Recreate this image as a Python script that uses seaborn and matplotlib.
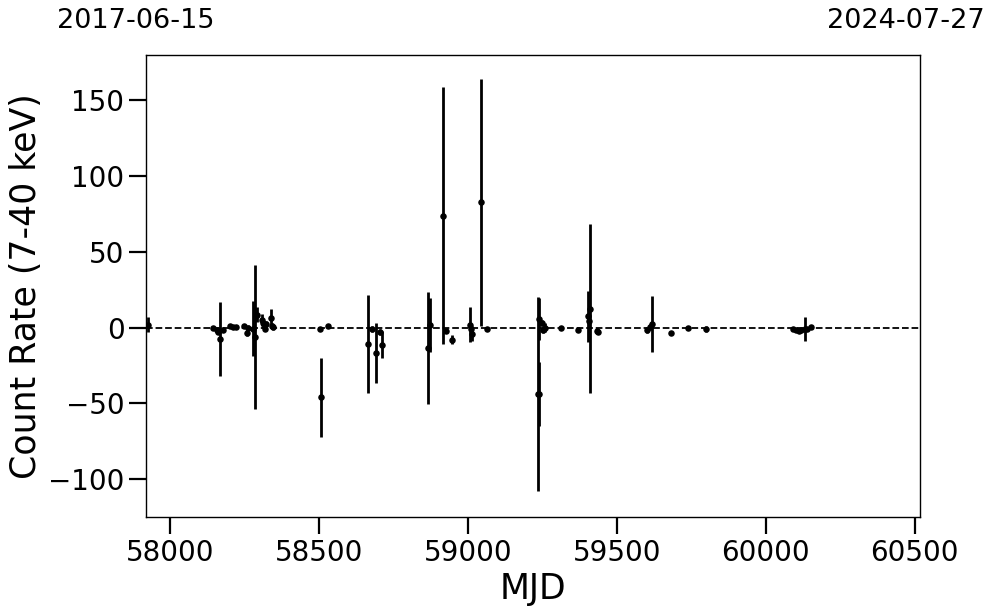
import numpy as np
import pandas as pd
import matplotlib
matplotlib.use("Agg")
import matplotlib.pyplot as plt
import seaborn as sns

# light curve values
mjd = [57927, 58145, 58156, 58162, 58167, 58176, 58200, 58210, 58221,
       58249, 58257, 58260, 58277, 58285, 58293, 58308, 58313, 58318,
       58321, 58338, 58341, 58346,
       58503, 58508, 58530,
       58663, 58678, 58690, 58705, 58712,
       58866, 58874, 58916, 58925, 58947,
       59007, 59010, 59014, 59044, 59065,
       59236, 59239, 59240, 59249, 59252, 59260, 59314, 59371,
       59403, 59405, 59411, 59434, 59436,
       59601, 59612, 59618, 59681, 59738, 59799,
       60090, 60100, 60110, 60120, 60131, 60140, 60151]
rate = [2.0, 0.0, -1.8, -3.0, -7.3, -1.3, 1.0, 0.5, 0.5,
        1.0, -3.5, 0.0, -0.7, -6.0, 8.6, 5.3, 3.0, -0.7,
        2.4, 6.5, 1.0, 0.2,
        -0.7, -45.9, 1.3,
        -10.8, -0.7, -16.8, -3.0, -11.2,
        -13.4, 1.8, 74.0, -2.0, -8.0,
        2.0, -0.9, -4.0, 82.7, -0.9,
        -43.6, -43.9, 5.7, 3.0, -1.3, 0.0, 0.0, -1.3,
        7.5, 4.2, 12.6, -2.0, -3.0,
        -1.3, 0.5, 2.5, -3.5, 0.0, -0.9,
        -1.0, -1.5, -2.0, -1.5, -1.0, -1.0, 0.2]
err = [5, 1, 1.5, 1.5, 24.5, 1, 1, 1, 1,
       1.5, 2, 1.5, 18, 47.6, 5, 4, 3, 1.5,
       2, 6, 2, 1.5,
       1, 26, 1,
       32.3, 2, 19.8, 2, 9,
       37, 18, 85, 1.5, 3,
       11.7, 2, 5, 81.7, 1,
       64, 21, 14, 2, 2, 3, 1, 1.5,
       17, 3, 55.6, 1.5, 1.5,
       2, 2, 18.5, 1, 1, 2,
       1, 1, 1, 1, 8, 1, 1]

start_label = "2017-06-15"
end_label = "2024-07-27"
xlim = (57919, 60518)

df = pd.DataFrame({"MJD": mjd, "rate": rate, "err": err})

sns.set_style("ticks")
plt.rcParams.update({
    "text.color": "black",
    "axes.labelcolor": "black",
    "xtick.color": "black",
    "ytick.color": "black",
    "axes.edgecolor": "black",
})

fig, ax = plt.subplots(figsize=(9.97, 6.13), dpi=100)
fig.subplots_adjust(left=0.1464, right=0.9228, top=0.9103, bottom=0.1566)

ax.axhline(0, color="black", ls="--", lw=1.3, zorder=1)
ax.errorbar(df["MJD"], df["rate"], yerr=df["err"], fmt="none",
            ecolor="black", elinewidth=2, capsize=0, zorder=2)
sns.scatterplot(data=df, x="MJD", y="rate", color="black", s=22,
                edgecolor="black", linewidth=0, ax=ax, zorder=3)

ax.set_xlim(*xlim)
ax.set_ylim(-125, 180)
ax.set_xticks([58000, 58500, 59000, 59500, 60000, 60500])
ax.set_yticks([-100, -50, 0, 50, 100, 150])
ax.set_xlabel("MJD", fontsize=25)
ax.set_ylabel("Count Rate (7-40 keV)", fontsize=25)
ax.tick_params(axis="both", labelsize=20, length=12, width=1.6, color="black")
for s in ax.spines.values():
    s.set_linewidth(1.0)
    s.set_color("black")

ax.text(-0.013, 1.045, start_label, transform=ax.transAxes, ha="center",
        va="bottom", fontsize=19.5)
ax.text(0.982, 1.045, end_label, transform=ax.transAxes, ha="center",
        va="bottom", fontsize=19.5)

plt.savefig("out.png", dpi=100)
